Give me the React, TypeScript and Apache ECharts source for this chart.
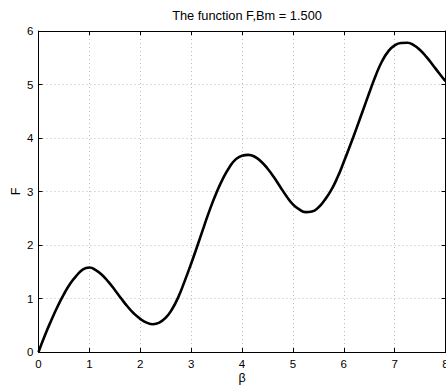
import React, { useEffect, useRef } from "react";
import * as echarts from "echarts";

const beta = [
  0, 0.125, 0.25, 0.375, 0.5, 0.625, 0.75, 0.875, 1.0, 1.125, 1.25, 1.375, 1.5, 1.625, 1.75, 1.875,
  2.0, 2.125, 2.25, 2.375, 2.5, 2.625, 2.75, 2.875, 3.0, 3.125, 3.25, 3.375, 3.5, 3.625, 3.75, 3.875,
  4.0, 4.125, 4.25, 4.375, 4.5, 4.625, 4.75, 4.875, 5.0, 5.125, 5.25, 5.375, 5.5, 5.625, 5.75, 5.875,
  6.0, 6.125, 6.25, 6.375, 6.5, 6.625, 6.75, 6.875, 7.0, 7.125, 7.25, 7.375, 7.5, 7.625, 7.75, 7.875, 8.0,
];
const F = [
  0, 0.31, 0.59, 0.85, 1.08, 1.28, 1.43, 1.545, 1.58, 1.53, 1.44, 1.31, 1.16, 1.0, 0.85, 0.72,
  0.62, 0.55, 0.52, 0.55, 0.64, 0.8, 1.03, 1.33, 1.65, 1.99, 2.34, 2.68, 2.98, 3.24, 3.45, 3.6,
  3.67, 3.685, 3.65, 3.56, 3.43, 3.27, 3.09, 2.91, 2.76, 2.665, 2.615, 2.625, 2.7, 2.84, 3.02, 3.26,
  3.55, 3.86, 4.18, 4.51, 4.84, 5.16, 5.43, 5.62, 5.73, 5.775, 5.78, 5.735, 5.645, 5.515, 5.365, 5.21, 5.06,
];
const xTicks = [0, 1, 2, 3, 4, 5, 6, 7, 8];
const yTicks = [0, 1, 2, 3, 4, 5, 6];
const titleText = "The function F,Bm = 1.500";
const xName = "β";
const yName = "F";

const FONT = "Liberation Sans";

export default function App() {
  const ref = useRef<HTMLDivElement>(null);
  useEffect(() => {
    if (!ref.current) return;
    const chart = echarts.init(ref.current, null, { renderer: "svg" });
    const data = beta.map((b, i) => [b, F[i]]);
    const tickStyle = { show: true, inside: true, length: 4, lineStyle: { color: "#000", width: 1 } };
    const lineStyle = { color: "#000", width: 1 };
    const split = { show: true, lineStyle: { color: "#bdbdbd", type: [1, 3] as any, width: 1 } };
    chart.setOption({
      animation: false,
      backgroundColor: "#fff",
      title: {
        text: titleText,
        left: 242,
        top: 4,
        textAlign: "center",
        textStyle: { fontFamily: FONT, fontSize: 12.8, fontWeight: "normal", color: "#000" },
      },
      grid: { left: 38.5, right: 0.5, top: 31, bottom: 33, containLabel: false, outerBoundsMode: "none" },
      xAxis: [
        {
          type: "value",
          min: xTicks[0],
          max: xTicks[xTicks.length - 1],
          interval: 1,
          position: "bottom",
          name: xName,
          nameLocation: "middle",
          nameGap: 19,
          nameMoveOverlap: false,
          nameTextStyle: { fontFamily: FONT, fontSize: 12.5, color: "#000" },
          axisLine: { show: true, onZero: false, lineStyle },
          axisTick: tickStyle,
          axisLabel: { fontFamily: FONT, fontSize: 11.5, color: "#000", margin: 6 },
          splitLine: split,
        },
        {
          type: "value",
          min: xTicks[0],
          max: xTicks[xTicks.length - 1],
          interval: 1,
          position: "top",
          axisLine: { show: true, onZero: false, lineStyle },
          axisTick: tickStyle,
          axisLabel: { show: false },
          splitLine: { show: false },
        },
      ],
      yAxis: [
        {
          type: "value",
          min: yTicks[0],
          max: yTicks[yTicks.length - 1],
          interval: 1,
          position: "left",
          name: yName,
          nameLocation: "middle",
          nameGap: 16,
          nameMoveOverlap: false,
          nameRotate: 90,
          nameTextStyle: { fontFamily: FONT, fontSize: 12.5, color: "#000" },
          axisLine: { show: true, onZero: false, lineStyle },
          axisTick: tickStyle,
          axisLabel: { fontFamily: FONT, fontSize: 11.5, color: "#000", margin: 5 },
          splitLine: split,
        },
        {
          type: "value",
          min: yTicks[0],
          max: yTicks[yTicks.length - 1],
          interval: 1,
          position: "right",
          axisLine: { show: true, onZero: false, lineStyle },
          axisTick: tickStyle,
          axisLabel: { show: false },
          splitLine: { show: false },
        },
      ],
      series: [
        {
          type: "line",
          data,
          smooth: 0.5,
          showSymbol: false,
          symbol: "none",
          lineStyle: { color: "#000", width: 2.6 },
          xAxisIndex: 0,
          yAxisIndex: 0,
        },
      ],
    });
    return () => chart.dispose();
  }, []);
  return (
    <div
      ref={ref}
      style={{ position: "fixed", left: 0, top: 0, width: 446, height: 385, background: "#fff" }}
    />
  );
}
